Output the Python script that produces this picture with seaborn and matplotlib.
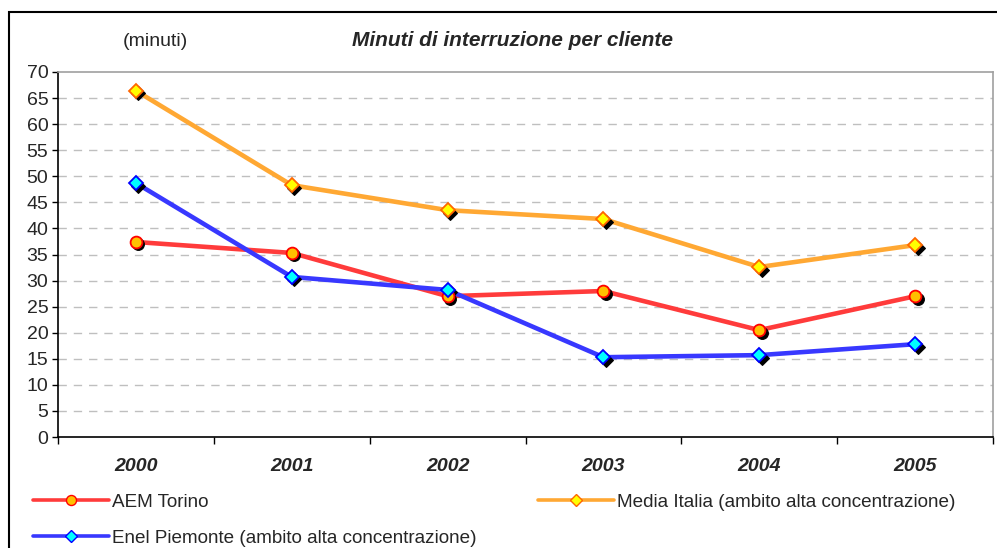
import matplotlib
matplotlib.use("Agg")
import matplotlib.pyplot as plt
import matplotlib.transforms as mtransforms
from matplotlib.patches import Rectangle
from matplotlib.lines import Line2D
import seaborn as sns
import pandas as pd

years = ["2000", "2001", "2002", "2003", "2004", "2005"]
aem_torino = [37.4, 35.3, 27.0, 28.0, 20.5, 27.0]
media_italia = [66.4, 48.3, 43.5, 41.8, 32.6, 36.8]
enel_piemonte = [48.7, 30.7, 28.2, 15.3, 15.7, 17.8]
series_names = ["AEM Torino", "Media Italia (ambito alta concentrazione)",
                "Enel Piemonte (ambito alta concentrazione)"]
y_ticks = list(range(0, 75, 5))

sns.set_theme(style="white")
plt.rcParams['font.family'] = ['Liberation Sans', 'DejaVu Sans']

fig = plt.figure(figsize=(9.97, 5.48), dpi=100)
ax = fig.add_axes([58/997, 1-437/548, (993-58)/997, (437-72)/548])

styles = [
    dict(data=aem_torino, color="#FF3B3B", marker="o", mfc="#FFC000", mec="#FF0000", ms=8.5),
    dict(data=media_italia, color="#FFA833", marker="D", mfc="#FFFF00", mec="#FF6600", ms=7),
    dict(data=enel_piemonte, color="#3838FF", marker="D", mfc="#00FFFF", mec="#0000FF", ms=7),
]

shadow_tr = mtransforms.offset_copy(ax.transData, fig=fig, x=2.5, y=-2.5, units='dots')
handles = []
for name, st in zip(series_names, styles):
    df = pd.DataFrame({"year": years, "value": st["data"]})
    sns.lineplot(data=df, x="year", y="value", ax=ax, color=st["color"], lw=3.3,
                 zorder=2, sort=False)
    sns.lineplot(data=df, x="year", y="value", ax=ax, color="black", lw=0,
                 marker=st["marker"], markersize=st["ms"], markerfacecolor="black",
                 markeredgecolor="black", zorder=3, sort=False)
    ax.lines[-1].set_transform(shadow_tr)
    sns.lineplot(data=df, x="year", y="value", ax=ax, color=st["color"], lw=0,
                 marker=st["marker"], markersize=st["ms"], markerfacecolor=st["mfc"],
                 markeredgecolor=st["mec"], markeredgewidth=1.3, zorder=4, sort=False)
    h = Line2D([], [], color=st["color"], lw=2.6, marker=st["marker"],
               markersize=st["ms"]*0.85, markerfacecolor=st["mfc"],
               markeredgecolor=st["mec"], label=name)
    handles.append(h)

ax.set_xlim(-0.5, 5.5)
ax.set_ylim(0, 70)
ax.set_yticks(y_ticks)
ax.set_yticklabels([str(v) for v in y_ticks], fontsize=14)
ax.set_xticks(range(len(years)))
ax.set_xticklabels(years, fontsize=14, fontweight="bold", fontstyle="italic")
ax.set_xticks([i - 0.5 for i in range(len(years) + 1)], minor=True)
ax.tick_params(axis="x", which="major", length=0, pad=15)
ax.tick_params(axis="x", which="minor", length=5, width=1, color="black", direction="out", bottom=True)
ax.tick_params(axis="y", length=4, width=1, color="black", direction="out", left=True, pad=3)
ax.set_xlabel("")
ax.set_ylabel("")

for v in y_ticks[1:-1]:
    ax.axhline(v, color="#BFBFBF", lw=1, ls=(0, (6, 5)), zorder=1)

for s in ["left", "bottom"]:
    ax.spines[s].set_color("black")
    ax.spines[s].set_linewidth(1.2)
for s in ["top", "right"]:
    ax.spines[s].set_color("#A0A0A0")
    ax.spines[s].set_linewidth(1.2)

fig.text(512/997, 1-40/548, "Minuti di interruzione per cliente", ha="center", va="center",
         fontsize=15, fontweight="bold", fontstyle="italic")
fig.text(155/997, 1-42/548, "(minuti)", ha="center", va="center", fontsize=14)

fig.patches.append(Rectangle((9/997, -0.1), 1.2, 1-12/548 + 0.1, transform=fig.transFigure,
                             fill=False, edgecolor="black", lw=1.5))

legend_pos = [(33, 502), (538, 502), (33, 538)]
for h, (lx, ly) in zip(handles, legend_pos):
    fig.legend(handles=[h], labels=[h.get_label()], loc="center left",
               bbox_to_anchor=(lx/997, 1-ly/548), frameon=False, borderpad=0,
               borderaxespad=0, handlelength=4.0, handletextpad=0.2,
               prop=dict(size=13.6))

fig.savefig("out.png", dpi=100)
